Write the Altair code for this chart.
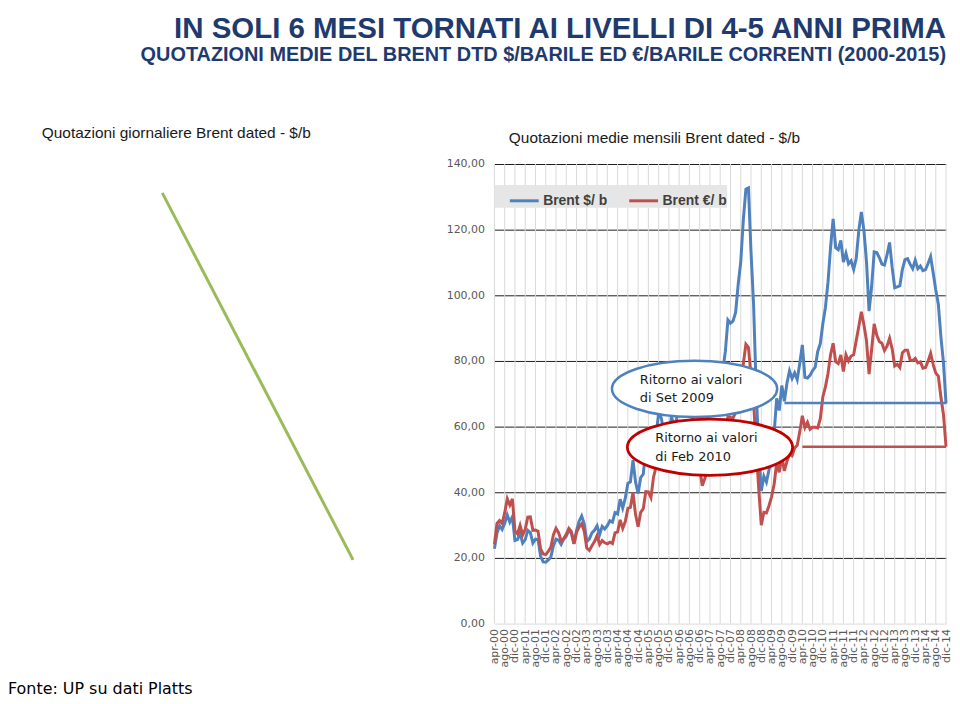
import altair as alt
import pandas as pd

# ---------------- data ----------------
mesi = ["gen", "feb", "mar", "apr", "mag", "giu", "lug", "ago", "set", "ott", "nov", "dic"]
anni = [f"{a:02d}" for a in range(0, 15)]
months = [f"{m}-{a}" for a in anni for m in mesi][3:]          # apr-00 ... dic-14
tick_labels = months[::4]                                        # apr-00, ago-00, dic-00 ...

brent_usd = [
    22.8, 27.6, 29.8, 28.7, 30.5, 33.1, 30.9, 32.5, 25.3,
    25.6, 27.5, 24.5, 25.6, 28.4, 27.7, 24.5, 25.7, 25.6, 20.5, 18.8, 18.7,
    19.4, 20.3, 23.7, 25.7, 25.4, 24.1, 25.7, 26.6, 28.4, 27.5, 24.3, 28.3,
    31.2, 32.8, 30.4, 25.0, 25.8, 27.6, 28.4, 29.8, 27.1, 29.6, 28.8, 29.8,
    31.3, 30.9, 33.8, 33.4, 37.9, 35.2, 38.2, 42.7, 43.2, 49.8, 43.1, 39.6,
    44.5, 45.5, 53.1, 51.9, 48.7, 54.3, 57.5, 64.1, 62.7, 58.5, 55.2, 56.8,
    63.1, 59.9, 62.3, 70.4, 70.0, 68.9, 73.9, 73.6, 62.8, 58.4, 58.9, 62.4,
    54.6, 57.8, 62.1, 67.5, 67.5, 71.3, 77.2, 70.8, 77.1, 82.9, 92.5, 91.5,
    92.2, 94.8, 103.3, 110.2, 123.0, 132.3, 132.7, 113.2, 97.2, 71.6, 52.5, 40.4,
    44.9, 43.1, 46.8, 50.9, 57.9, 68.6, 64.9, 72.5, 67.7, 73.2, 77.0, 74.7,
    76.4, 74.3, 79.3, 84.9, 75.0, 74.8, 75.6, 77.1, 78.1, 82.9, 85.3, 91.4,
    96.3, 104.0, 114.6, 123.3, 114.5, 113.9, 116.7, 110.1, 112.8, 109.6, 110.5, 107.9,
    111.2, 119.7, 125.4, 119.8, 110.3, 95.2, 102.6, 113.2, 113.0, 111.5, 109.5, 109.2,
    112.3, 116.1, 108.5, 102.3, 102.6, 102.9, 107.9, 110.9, 111.2, 109.5, 108.1, 110.7,
    108.1, 108.9, 107.5, 107.8, 109.7, 111.8, 106.8, 101.6, 97.3, 87.4, 79.4, 67.0,
]

brent_eur = [
    24.1, 30.5, 31.4, 30.5, 33.7, 38.0, 36.1, 38.0, 28.2,
    27.3, 29.9, 27.0, 28.7, 32.4, 32.5, 28.4, 28.5, 28.1, 22.7, 21.2, 21.0,
    22.0, 23.3, 27.1, 29.0, 27.7, 25.2, 25.9, 27.2, 29.0, 28.0, 24.3, 27.8,
    29.4, 30.4, 28.1, 23.0, 22.3, 23.7, 25.0, 26.8, 24.1, 25.3, 24.6, 24.3,
    24.8, 24.4, 27.6, 27.9, 31.6, 29.0, 31.1, 35.1, 35.4, 39.9, 33.2, 29.5,
    33.9, 35.0, 40.2, 40.1, 38.4, 44.6, 47.8, 52.1, 51.2, 48.7, 46.8, 47.9,
    52.1, 50.2, 51.8, 57.4, 54.8, 54.5, 58.3, 57.5, 49.3, 46.3, 45.7, 47.2,
    42.0, 44.2, 46.9, 49.9, 50.0, 53.1, 56.3, 52.0, 55.5, 58.3, 63.0, 62.8,
    62.6, 64.3, 66.5, 70.0, 79.1, 85.1, 84.1, 75.6, 67.6, 53.7, 41.2, 30.0,
    33.9, 33.7, 35.9, 38.6, 42.4, 48.9, 46.1, 50.8, 46.5, 49.4, 51.6, 51.1,
    53.5, 54.3, 58.4, 63.3, 59.7, 61.3, 59.2, 59.8, 59.8, 59.6, 62.4, 69.1,
    72.1, 76.2, 81.9, 85.4, 79.8, 79.2, 81.8, 76.8, 81.9, 80.0, 81.5, 81.9,
    86.2, 90.5, 95.0, 91.0, 86.2, 76.0, 83.5, 91.3, 87.9, 85.9, 85.4, 83.2,
    84.5, 86.9, 83.7, 78.5, 79.0, 78.0, 82.5, 83.3, 83.3, 80.3, 80.1, 80.8,
    79.4, 79.7, 77.8, 78.0, 79.9, 82.3, 78.9, 76.3, 75.4, 69.0, 63.7, 53.9,
]

series_names = ["Brent $/ b", "Brent €/ b"]
series_colors = ["#4F81BD", "#C0504D"]

# reference levels ("ritorno ai valori di ...")
ref_series = ["Brent $/ b", "Brent €/ b"]
ref_start = ["set-09", "apr-10"]
ref_end = ["dic-14", "dic-14"]
ref_value = [67.2, 53.9]

# callouts
callout_text = ["Ritorno ai valori\ndi Set 2009", "Ritorno ai valori\ndi Feb 2010"]
callout_month = ["ott-06", "apr-07"]
callout_value = [71.5, 53.7]
callout_color = ["#4F81BD", "#C00000"]

# left panel (daily quotes): only a single green segment is visible
daily_t = [35.9, 80.3]
daily_price = [131.2, 19.4]

y_ticks = [0, 20, 40, 60, 80, 100, 120, 140]

# ---------------- right panel ----------------
df = pd.DataFrame({"mese": months, series_names[0]: brent_usd, series_names[1]: brent_eur})
grid_df = pd.DataFrame({"mese": tick_labels})
ref_df = pd.DataFrame({"serie": ref_series, "mese": ref_start, "fine": ref_end, "valore": ref_value})

x_scale = alt.Scale(type="point", domain=months, padding=0)
x_axis = alt.Axis(values=tick_labels, labelAngle=-90, labelOverlap=False, labelBound=False,
                  grid=False, ticks=False, domain=False, labelPadding=5,
                  labelFont="DejaVu Sans", labelFontSize=11, labelColor="#595959", title=None)
x_enc = alt.X("mese:O", scale=x_scale, axis=x_axis)

y_scale = alt.Scale(domain=[0, 140], nice=False, zero=True)
y_axis = alt.Axis(values=y_ticks, labelExpr="replace(format(datum.value, '.2f'), '.', ',')",
                  grid=True,
                  gridColor={"condition": {"test": "datum.value === 0", "value": "#D9D9D9"}, "value": "#1E1E1E"},
                  gridWidth=1, ticks=False, domain=False, labelPadding=10,
                  labelFont="DejaVu Sans", labelFontSize=11, labelColor="#595959", title=None)

color_enc = alt.Color("serie:N",
                      scale=alt.Scale(domain=series_names, range=series_colors),
                      legend=alt.Legend(orient="none", legendX=489, legendY=21, direction="horizontal",
                                        title=" ", titleOrient="left", titlePadding=14,
                                        fillColor="#E6E6E6", padding=0,
                                        symbolType="stroke", symbolStrokeWidth=3, symbolSize=841,
                                        labelFont="Liberation Sans", labelFontWeight="bold",
                                        labelFontSize=14, labelColor="#404040",
                                        columnPadding=15, labelOffset=3))

vgrid = alt.Chart(grid_df).mark_rule(color="#D9D9D9", strokeWidth=1).encode(x=x_enc)

lines = alt.Chart(df).transform_fold(series_names, as_=["serie", "valore"]).mark_line(
    strokeWidth=3).encode(
    x=x_enc,
    y=alt.Y("valore:Q", scale=y_scale, axis=y_axis),
    color=color_enc,
)

refs = alt.Chart(ref_df).mark_rule(strokeWidth=2.5).encode(
    x=x_enc, x2=alt.X2("fine"), y=alt.Y("valore:Q", scale=y_scale), color=color_enc)

ELLIPSE = "M-1,0A1,0.34,0,1,1,1,0A1,0.34,0,1,1,-1,0Z"
layers = [vgrid, lines, refs]
for i in range(2):
    cdf = pd.DataFrame({"mese": [callout_month[i]], "valore": [callout_value[i]], "testo": [callout_text[i]]})
    ell = alt.Chart(cdf).mark_point(shape=ELLIPSE, size=27600, filled=True, fill="white",
                                    stroke=callout_color[i], strokeWidth=2.8 if i else 2.5,
                                    opacity=1).encode(x=x_enc, y=alt.Y("valore:Q", scale=y_scale))
    txt = alt.Chart(cdf).mark_text(align="left", baseline="middle", dx=-55, dy=-9, lineBreak="\n",
                                   lineHeight=18.5, font="DejaVu Sans", fontSize=13,
                                   color="#1A1A1A").encode(
        x=x_enc, y=alt.Y("valore:Q", scale=y_scale), text="testo:N")
    layers += [ell, txt]

right = alt.layer(*layers).properties(
    width=454, height=462,
    title=alt.TitleParams("Quotazioni medie mensili Brent dated - $/b", anchor="start", dx=63,
                          font="Liberation Sans", fontSize=15.5, fontWeight="normal",
                          color="#1A1A1A", offset=11.5),
)

# ---------------- left panel ----------------
left_df = pd.DataFrame({"t": daily_t, "prezzo": daily_price})
green = alt.Chart(left_df).mark_line(color="#9BBB59", strokeWidth=3).encode(
    x=alt.X("t:Q", scale=alt.Scale(domain=[0, 100], nice=False), axis=None),
    y=alt.Y("prezzo:Q", scale=alt.Scale(domain=[0, 140], nice=False), axis=None),
)
fonte = alt.Chart(pd.DataFrame({"testo": ["Fonte: UP su dati Platts"]})).mark_text(
    align="left", baseline="alphabetic", font="DejaVu Sans", fontSize=16, color="#000000"
).encode(text="testo:N", x=alt.value(0), y=alt.value(533))

left = alt.layer(green, fonte).properties(
    width=432, height=462,
    title=alt.TitleParams("Quotazioni giornaliere Brent dated - $/b", anchor="start", dx=34,
                          font="Liberation Sans", fontSize=15.5, fontWeight="normal",
                          color="#1A1A1A", offset=22.5),
)

chart = alt.hconcat(left, right, spacing=8).properties(
    padding={"top": 4, "left": 0, "right": 0, "bottom": 0},
    title=alt.TitleParams(
        "IN SOLI 6 MESI TORNATI AI LIVELLI DI 4-5 ANNI PRIMA",
        subtitle="QUOTAZIONI MEDIE DEL BRENT DTD $/BARILE ED €/BARILE CORRENTI  (2000-2015)",
        anchor="end", dx=-6, font="Liberation Sans", fontSize=29.6, fontWeight="bold",
        color="#1F3A6E", subtitleFont="Liberation Sans", subtitleFontSize=20,
        subtitleFontWeight="bold", subtitleColor="#1F3A6E", subtitlePadding=0, offset=61,
    ),
).configure_view(stroke="transparent", strokeWidth=0)

chart.save("out.html", embed_options={"renderer": "svg", "actions": False})
